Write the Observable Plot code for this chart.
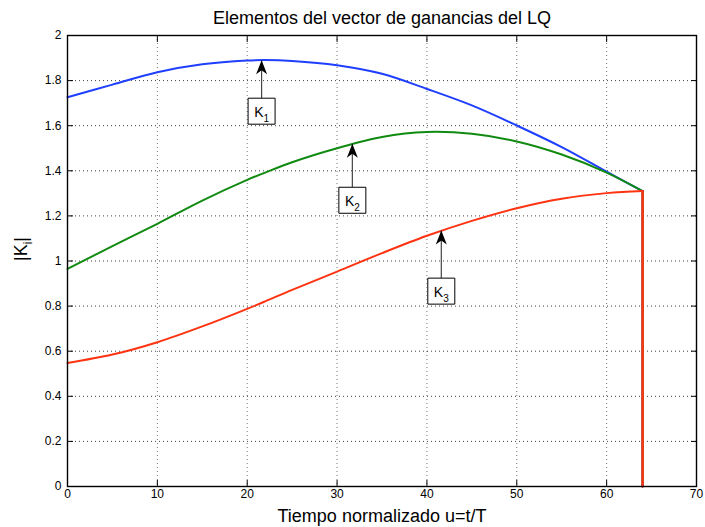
<!DOCTYPE html>
<html>
<head>
<meta charset="utf-8">
<script src="https://cdn.jsdelivr.net/npm/d3@7"></script>
<script src="https://cdn.jsdelivr.net/npm/@observablehq/plot@0.6"></script>
<style>
  html, body { margin: 0; padding: 0; background: #fff; }
  #chart svg { display: block; }
</style>
</head>
<body>
<div id="chart"></div>
<script>
// ---- data ----
const titleText = "Elementos del vector de ganancias del LQ";
const xLabelText = "Tiempo normalizado u=t/T";
const yLabelMain = "|K";
const yLabelSub = "i";

const xTicks = [0, 10, 20, 30, 40, 50, 60, 70];
const yTicks = [0, 0.2, 0.4, 0.6, 0.8, 1, 1.2, 1.4, 1.6, 1.8, 2];

const u = [0, 5, 10, 15, 20, 22, 25, 30, 35, 40, 45, 50, 55, 60, 64];
const k1 = [1.726, 1.782, 1.837, 1.872, 1.889, 1.891, 1.887, 1.868, 1.830, 1.763, 1.690, 1.601, 1.505, 1.396, 1.310];
const k2 = [0.965, 1.066, 1.165, 1.268, 1.360, 1.392, 1.438, 1.500, 1.550, 1.572, 1.564, 1.530, 1.472, 1.392, 1.310];
const k3 = [0.548, 0.585, 0.640, 0.710, 0.788, 0.821, 0.872, 0.953, 1.035, 1.112, 1.178, 1.234, 1.276, 1.301, 1.310];
const finalGain = 0; // gains drop to zero at the final time

const seriesNames = ["K1", "K2", "K3"];
const seriesColors = ["#1f3fff", "#118a11", "#ff3311"];

// annotations (text arrows)
const annSub = ["1", "2", "3"];
const annX = [21.6, 31.7, 41.6];
const annTip = [1.89, 1.52, 1.135];
const annTail = [1.722, 1.327, 0.924];

// ---- build tables ----
const allSeries = [k1, k2, k3];
const curves = allSeries.map((vals, i) => vals.map((v, j) => ({u: u[j], v, s: seriesNames[i]})));
const drops = allSeries.map((vals, i) => [
  {u: u[u.length - 1], v: vals[vals.length - 1], s: seriesNames[i]},
  {u: u[u.length - 1], v: finalGain, s: seriesNames[i]}
]);
const ann = annSub.map((s, i) => ({sub: s, x: annX[i], tip: annTip[i], tail: annTail[i]}));

// custom symbols
const arrowHead = {
  draw(ctx) {
    ctx.moveTo(0, 0);
    ctx.lineTo(-5.5, 14);
    ctx.lineTo(0, 10);
    ctx.lineTo(5.5, 14);
    ctx.closePath();
  }
};
const boxSym = {
  draw(ctx) {
    ctx.moveTo(-13.5, 0);
    ctx.lineTo(13.5, 0);
    ctx.lineTo(13.5, 26);
    ctx.lineTo(-13.5, 26);
    ctx.closePath();
  }
};

const font = "'Liberation Sans', Arial, Helvetica, sans-serif";
const fmt = d => String(+d.toFixed(1));

const marks = [
  Plot.gridY(yTicks, {stroke: "#000", strokeOpacity: 0.75, strokeDasharray: "1,3", strokeWidth: 1}),
  Plot.gridX(xTicks, {stroke: "#000", strokeOpacity: 0.55, strokeDasharray: "1,3", strokeWidth: 1}),
];
curves.forEach((c, i) => {
  marks.push(Plot.line(drops[i], {x: "u", y: "v", stroke: seriesColors[i], strokeWidth: 2}));
});
curves.forEach((c, i) => {
  marks.push(Plot.line(c, {x: "u", y: "v", stroke: seriesColors[i], strokeWidth: 2, curve: "catmull-rom"}));
});
marks.push(Plot.line(drops[2], {x: "u", y: "v", stroke: seriesColors[2], strokeWidth: 2}));

marks.push(
  Plot.frame({stroke: "#000", strokeWidth: 1.4}),
  // inward ticks on all four sides
  Plot.axisY(yTicks, {anchor: "left", tickSize: 6, dx: 6, tickFormat: () => "", label: null, strokeWidth: 1}),
  Plot.axisY(yTicks, {anchor: "right", tickSize: 6, dx: -6, tickFormat: () => "", label: null, strokeWidth: 1}),
  Plot.axisX(xTicks, {anchor: "bottom", tickSize: 6, dy: -6, tickFormat: () => "", label: null, strokeWidth: 1}),
  Plot.axisX(xTicks, {anchor: "top", tickSize: 6, dy: 6, tickFormat: () => "", label: null, strokeWidth: 1}),
  // tick labels
  Plot.axisY(yTicks, {anchor: "left", tickSize: 0, tickPadding: 6, tickFormat: fmt, label: null, fontSize: 12}),
  Plot.axisX(xTicks, {anchor: "bottom", tickSize: 0, tickPadding: 3, tickFormat: fmt, label: null, fontSize: 12}),
  // annotations
  Plot.link(ann, {x1: "x", x2: "x", y1: "tail", y2: "tip", stroke: "#444", strokeWidth: 1.2}),
  Plot.dot(ann, {x: "x", y: "tip", symbol: arrowHead, fill: "#000", stroke: "none"}),
  Plot.dot(ann, {x: "x", y: "tail", symbol: boxSym, fill: "#fff", stroke: "#000", strokeWidth: 1}),
  Plot.text(ann, {x: "x", y: "tail", dy: 14, text: d => "K" + d.sub, fontSize: 14, fill: "#000", className: "klab"}),
  // titles
  Plot.text([titleText], {frameAnchor: "top", dy: -12, lineAnchor: "bottom", fontSize: 18, fill: "#000"}),
  Plot.text([xLabelText], {frameAnchor: "bottom", dy: 35, lineAnchor: "bottom", fontSize: 18, fill: "#000"}),
  Plot.text([yLabelMain + yLabelSub + "|"], {frameAnchor: "left", dx: -46, rotate: -90, fontSize: 18, fill: "#000", className: "ylab"})
);

const chart = Plot.plot({
  width: 705,
  height: 527,
  marginLeft: 67,
  marginRight: 9,
  marginTop: 35,
  marginBottom: 41,
  style: {fontFamily: font, fontSize: "12px", color: "#000", background: "#fff"},
  x: {domain: [0, 70], axis: null},
  y: {domain: [0, 2], axis: null},
  marks
});
document.getElementById("chart").appendChild(chart);

// subscripts as real tspans
d3.select(chart).selectAll(".klab text").each(function(d, i) {
  const t = d3.select(this);
  const full = t.text();
  t.text(null);
  t.append("tspan").text(full.slice(0, 1));
  t.append("tspan").attr("dy", "5").attr("font-size", "10").text(full.slice(1));
});
d3.select(chart).selectAll(".ylab text").each(function() {
  const t = d3.select(this);
  t.text(null);
  t.append("tspan").text(yLabelMain);
  t.append("tspan").attr("dy", "5").attr("font-size", "12").text(yLabelSub);
  t.append("tspan").attr("dy", "-5").text("|");
});
</script>
</body>
</html>
